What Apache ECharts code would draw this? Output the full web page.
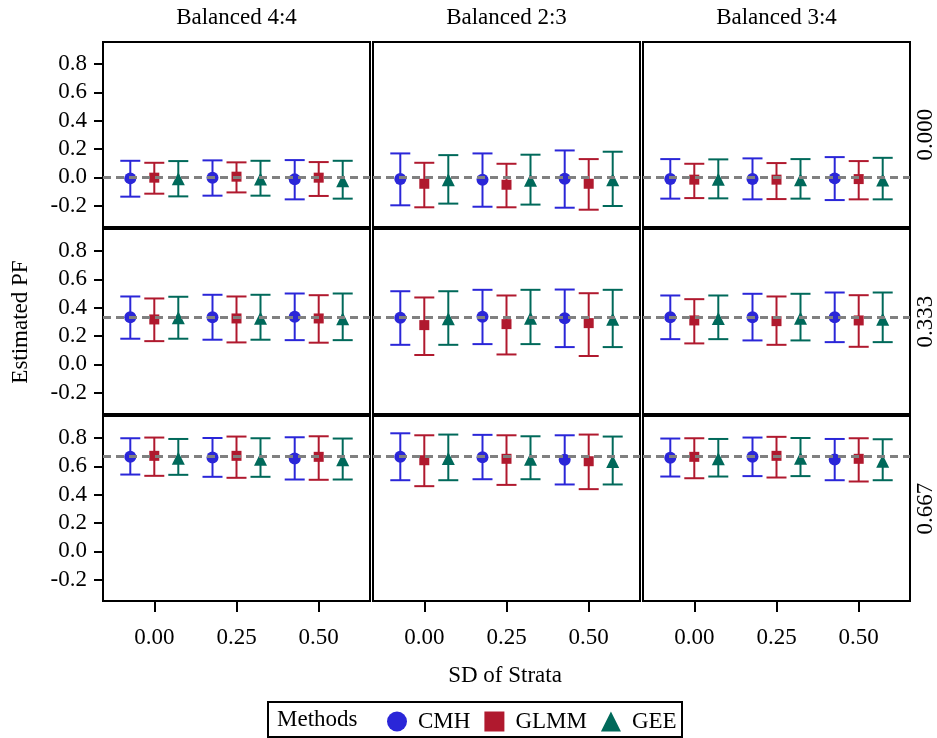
<!DOCTYPE html>
<html>
<head>
<meta charset="utf-8">
<script src="https://cdn.jsdelivr.net/npm/echarts@6/dist/echarts.min.js"></script>
<style>
html,body{margin:0;padding:0;background:#fff;}
#chart{width:937px;height:738px;}
</style>
</head>
<body>
<div id="chart"></div>
<script>
// ---- data ----
const sdLevels = [0, 0.25, 0.5];
const designLabels = ['Balanced 4:4', 'Balanced 2:3', 'Balanced 3:4'];
const pfLabels = ['0.000', '0.333', '0.667'];
const pfTrue = [0, 0.333, 0.667];
const methodNames = ['CMH', 'GLMM', 'GEE'];
const yTicks = [-0.2, 0, 0.2, 0.4, 0.6, 0.8];

// [pfRow][design][sdLevel]
const cmhEst = [
  [[-0.007, -0.002, -0.014], [-0.012, -0.016, -0.009], [-0.012, -0.012, -0.007]],
  [[0.333, 0.333, 0.336], [0.329, 0.336, 0.326], [0.333, 0.333, 0.333]],
  [[0.667, 0.662, 0.655], [0.667, 0.664, 0.646], [0.660, 0.667, 0.648]]
];
const cmhLow = [
  [[-0.136, -0.129, -0.155], [-0.197, -0.207, -0.214], [-0.150, -0.155, -0.160]],
  [[0.181, 0.174, 0.171], [0.138, 0.143, 0.122], [0.178, 0.169, 0.157]],
  [[0.542, 0.526, 0.507], [0.502, 0.509, 0.472], [0.528, 0.531, 0.502]]
];
const cmhUp = [
  [[0.117, 0.120, 0.122], [0.169, 0.169, 0.190], [0.129, 0.134, 0.143]],
  [[0.479, 0.491, 0.500], [0.516, 0.526, 0.528], [0.486, 0.498, 0.507]],
  [[0.798, 0.800, 0.805], [0.833, 0.822, 0.819], [0.796, 0.803, 0.793]]
];
const glmmEst = [
  [[-0.002, 0.005, -0.002], [-0.045, -0.052, -0.045], [-0.016, -0.016, -0.012]],
  [[0.317, 0.324, 0.324], [0.277, 0.284, 0.291], [0.310, 0.305, 0.310]],
  [[0.674, 0.674, 0.667], [0.643, 0.653, 0.636], [0.667, 0.674, 0.653]]
];
const glmmLow = [
  [[-0.115, -0.106, -0.131], [-0.211, -0.211, -0.228], [-0.146, -0.153, -0.155]],
  [[0.164, 0.155, 0.153], [0.066, 0.070, 0.059], [0.148, 0.138, 0.124]],
  [[0.533, 0.519, 0.505], [0.460, 0.469, 0.439], [0.516, 0.521, 0.493]]
];
const glmmUp = [
  [[0.103, 0.106, 0.108], [0.103, 0.096, 0.129], [0.096, 0.101, 0.115]],
  [[0.465, 0.479, 0.488], [0.472, 0.486, 0.502], [0.460, 0.479, 0.488]],
  [[0.803, 0.810, 0.812], [0.819, 0.819, 0.824], [0.798, 0.808, 0.798]]
];
const geeEst = [
  [[-0.010, -0.012, -0.023], [-0.016, -0.021, -0.016], [-0.014, -0.016, -0.019]],
  [[0.329, 0.326, 0.322], [0.322, 0.326, 0.319], [0.324, 0.326, 0.319]],
  [[0.657, 0.650, 0.646], [0.655, 0.650, 0.634], [0.653, 0.657, 0.636]]
];
const geeLow = [
  [[-0.134, -0.129, -0.150], [-0.185, -0.192, -0.202], [-0.148, -0.150, -0.155]],
  [[0.181, 0.174, 0.171], [0.138, 0.143, 0.122], [0.178, 0.169, 0.157]],
  [[0.540, 0.526, 0.507], [0.502, 0.509, 0.472], [0.528, 0.531, 0.502]]
];
const geeUp = [
  [[0.115, 0.117, 0.117], [0.157, 0.160, 0.181], [0.127, 0.129, 0.138]],
  [[0.477, 0.491, 0.500], [0.516, 0.526, 0.526], [0.486, 0.498, 0.507]],
  [[0.793, 0.798, 0.796], [0.824, 0.812, 0.810], [0.793, 0.800, 0.791]]
];

// ---- styling ----
const FONT = '"Liberation Serif", "Times New Roman", serif';
const FS = 23;
const methodStyle = [
  { color: '#2A26D8', symbol: 'circle', size: 12, dx: -24 },
  { color: '#B0192E', symbol: 'rect', size: 10, dx: 0 },
  { color: '#00695A', symbol: 'triangle', size: 13, dx: 24 }
];
const methodData = [
  { est: cmhEst, low: cmhLow, up: cmhUp },
  { est: glmmEst, low: glmmLow, up: glmmUp },
  { est: geeEst, low: geeLow, up: geeUp }
];

const colLeft = [103, 373, 643];
const rowTop = [42, 229, 416];
const panelW = 267, panelH = 185;

const grids = [], xAxes = [], yAxes = [], series = [];

for (let r = 0; r < 3; r++) {
  for (let c = 0; c < 3; c++) {
    const i = r * 3 + c;
    grids.push({
      left: colLeft[c], top: rowTop[r], width: panelW, height: panelH,
      show: true, borderColor: '#000', borderWidth: 2, backgroundColor: '#fff'
    });
    xAxes.push({
      type: 'value', gridIndex: i, min: -0.156, max: 0.656, position: 'bottom',
      axisLine: { show: false, onZero: false }, splitLine: { show: false },
      axisTick: { show: r === 2, customValues: sdLevels, length: 11, lineStyle: { color: '#000', width: 2 } },
      axisLabel: { show: r === 2, customValues: sdLevels, formatter: v => Number(v).toFixed(2),
        margin: 25, fontSize: FS, fontFamily: FONT, color: '#000' }
    });
    yAxes.push({
      type: 'value', gridIndex: i, min: -0.35, max: 0.955, position: 'left',
      axisLine: { show: false, onZero: false }, splitLine: { show: false },
      axisTick: { show: c === 0, customValues: yTicks, length: 9, lineStyle: { color: '#000', width: 2 } },
      axisLabel: { show: c === 0, customValues: yTicks, formatter: v => Number(v).toFixed(1),
        margin: 16, fontSize: FS, fontFamily: FONT, color: '#000' }
    });
    for (let m = 0; m < 3; m++) {
      const st = methodStyle[m];
      const d = methodData[m];
      series.push({
        type: 'custom', name: methodNames[m], xAxisIndex: i, yAxisIndex: i, z: 2,
        itemStyle: { color: st.color },
        data: sdLevels.map((sd, k) => [sd, d.low[r][c][k], d.up[r][c][k]]),
        encode: { x: 0, y: [1, 2] },
        renderItem: (function (dx, color) {
          return function (params, api) {
            const pLo = api.coord([api.value(0), api.value(1)]);
            const pHi = api.coord([api.value(0), api.value(2)]);
            const cx = pLo[0] + dx, half = 10;
            const s = { stroke: color, lineWidth: 2 };
            return {
              type: 'group', children: [
                { type: 'line', shape: { x1: cx, y1: pLo[1], x2: cx, y2: pHi[1] }, style: s },
                { type: 'line', shape: { x1: cx - half, y1: pLo[1], x2: cx + half, y2: pLo[1] }, style: s },
                { type: 'line', shape: { x1: cx - half, y1: pHi[1], x2: cx + half, y2: pHi[1] }, style: s }
              ]
            };
          };
        })(st.dx, st.color)
      });
      series.push({
        type: 'scatter', name: methodNames[m], xAxisIndex: i, yAxisIndex: i, z: 3,
        symbol: st.symbol, symbolSize: st.size, symbolOffset: [st.dx, 0],
        itemStyle: { color: st.color, opacity: 1 },
        data: sdLevels.map((sd, k) => [sd, d.est[r][c][k]])
      });
    }
    series.push({
      type: 'line', xAxisIndex: i, yAxisIndex: i, z: 5, data: [],
      markLine: {
        silent: true, symbol: 'none', animation: false,
        label: { show: false },
        lineStyle: { color: '#808080', type: [8, 5], width: 3 },
        data: [{ yAxis: pfTrue[r] }]
      }
    });
  }
}

const graphics = [];
designLabels.forEach((t, c) => {
  graphics.push({ type: 'text', x: colLeft[c] + panelW / 2, y: 18,
    style: { text: t, font: FS + 'px ' + FONT, fill: '#000', align: 'center', verticalAlign: 'middle' } });
});
pfLabels.forEach((t, r) => {
  graphics.push({ type: 'text', x: 926, y: rowTop[r] + panelH / 2, rotation: Math.PI / 2,
    style: { text: t, font: FS + 'px ' + FONT, fill: '#000', align: 'center', verticalAlign: 'middle' } });
});
graphics.push({ type: 'text', x: 21, y: 322, rotation: Math.PI / 2,
  style: { text: 'Estimated PF', font: FS + 'px ' + FONT, fill: '#000', align: 'center', verticalAlign: 'middle' } });
graphics.push({ type: 'text', x: 505, y: 676,
  style: { text: 'SD of Strata', font: FS + 'px ' + FONT, fill: '#000', align: 'center', verticalAlign: 'middle' } });
graphics.push({ type: 'rect', shape: { x: 268, y: 702, width: 414, height: 35 },
  style: { fill: 'none', stroke: '#000', lineWidth: 2 } });
graphics.push({ type: 'text', x: 277, y: 720,
  style: { text: 'Methods', font: FS + 'px ' + FONT, fill: '#000', align: 'left', verticalAlign: 'middle' } });

const option = {
  animation: false,
  backgroundColor: '#fff',
  grid: grids,
  xAxis: xAxes,
  yAxis: yAxes,
  series: series,
  legend: {
    left: 387, top: 710, padding: 0, itemWidth: 20, itemHeight: 20, itemGap: 14,
    selectedMode: false,
    textStyle: { fontSize: FS, fontFamily: FONT, color: '#000', padding: [0, 0, 0, 6] },
    data: methodNames.map((n, m) => ({ name: n, icon: methodStyle[m].symbol, itemStyle: { color: methodStyle[m].color } }))
  },
  graphic: graphics
};

const chart = echarts.init(document.getElementById('chart'), null, { renderer: 'canvas' });
chart.setOption(option);
</script>
</body>
</html>
